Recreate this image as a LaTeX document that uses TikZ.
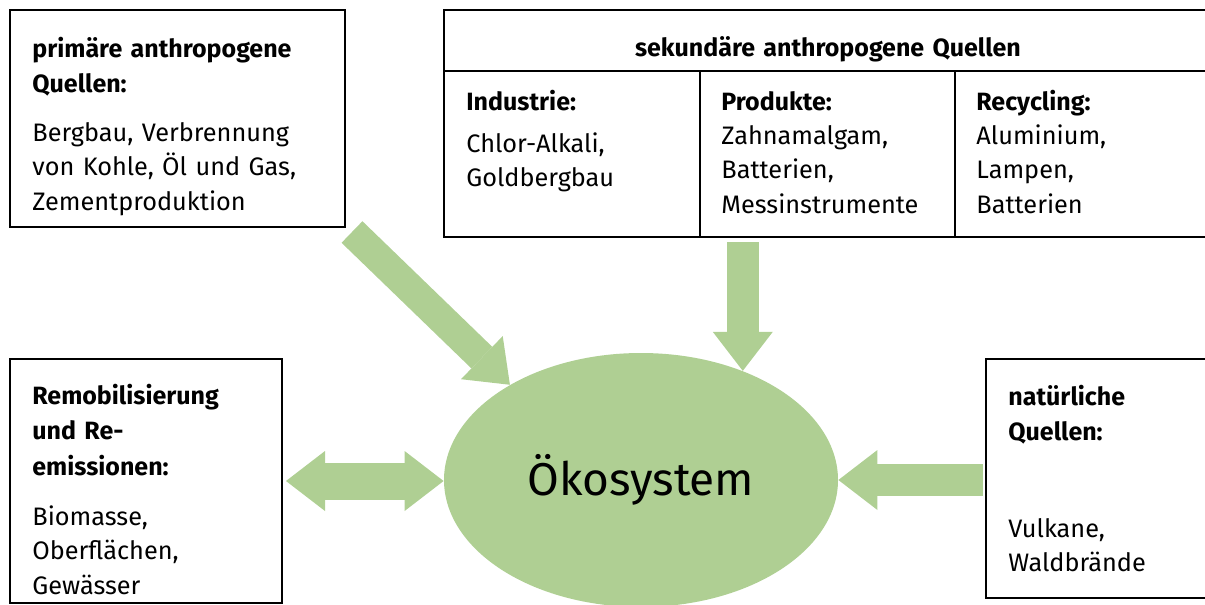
\documentclass[tikz,border=0pt]{standalone}
\usepackage{fontspec}
\setmainfont{Fira Sans}
\usetikzlibrary{arrows.meta,shapes.geometric,fit}
\definecolor{leaf}{HTML}{AFCF93}

\tikzset{
  box/.style={draw,line width=1pt,inner sep=0pt},
  title/.style={anchor=base west,inner sep=0pt,text width=160pt,align=left,
    font=\fontsize{12.5}{17.75}\selectfont\bfseries},
  body/.style={anchor=base west,inner sep=0pt,text width=160pt,align=left,
    font=\fontsize{12.65}{17.25}\selectfont},
  flow/.style={draw=leaf,line width=16pt,
    -{Triangle[length=19.5pt,width=30pt,line width=0pt]}},
}

\begin{document}
\begin{tikzpicture}[x=0.5pt,y=-0.5pt]
  \useasboundingbox (0,0) rectangle (1205,605);

  % boxes
  \node[box,fit={(10,10) (345,227)}] (prim) {};
  \node[box,fit={(444,10) (1215,237)}] (sec) {};
  \node[box,fit={(10,359) (282,603)}] (remo) {};
  \node[box,fit={(986,359) (1215,598)}] (nat) {};
  \draw[line width=1pt] (444,71) -- (1215,71);
  \draw[line width=1pt] (700,71) -- (700,237);
  \draw[line width=1pt] (955,71) -- (955,237);

  % ecosystem
  \node[ellipse,fill=leaf,minimum width=197pt,minimum height=127pt,
    inner sep=0pt,font=\fontsize{23}{27}\selectfont] (eco) at (641,480) {Ökosystem};

  % texts
  \node[title] (primt) at (32,57) {primäre anthropogene\\Quellen:};
  \node[body] (primb) at (32,141) {Bergbau, Verbrennung\\von Kohle, Öl und Gas,\\Zementproduktion};
  \node[title,text width=260pt,anchor=base,align=center] (sect) at (828,56) {sekundäre anthropogene Quellen};
  \node[title] (indt) at (466,110) {Industrie:};
  \node[body] (indb) at (466,152) {Chlor-Alkali,\\Goldbergbau};
  \node[title] (prodt) at (721,110) {Produkte:};
  \node[body] (prodb) at (721,144) {Zahnamalgam,\\Batterien,\\Messinstrumente};
  \node[title] (recyt) at (976,110) {Recycling:};
  \node[body] (recyb) at (976,144) {Aluminium,\\Lampen,\\Batterien};
  \node[title] (remot) at (32,404) {Remobilisierung\\und Re-\\emissionen:};
  \node[body] (remob) at (32,525) {Biomasse,\\Oberflächen,\\Gewässer};
  \node[title] (natt) at (1008,405) {natürliche\\Quellen:};
  \node[body] (natb) at (1008,537) {Vulkane,\\Waldbrände};

  % arrows
  \coordinate (tp) at (352,232);
  \coordinate (ts) at (eco.47 |- 0,242);
  \draw[flow,line width=15pt] (tp) -- (eco.144);
  \draw[flow] (ts) -- (eco.47);
  \draw[flow,line width=18.5pt,shorten <=1.5pt,
    {Triangle[length=19.5pt,width=30pt,line width=0pt]}-{Triangle[length=19.5pt,width=30pt,line width=0pt]}]
    (remo.east) -- (remo.east -| eco.west);
  \draw[flow,shorten <=1pt] (nat.west |- eco.east) -- (eco.east);
\end{tikzpicture}
\end{document}
